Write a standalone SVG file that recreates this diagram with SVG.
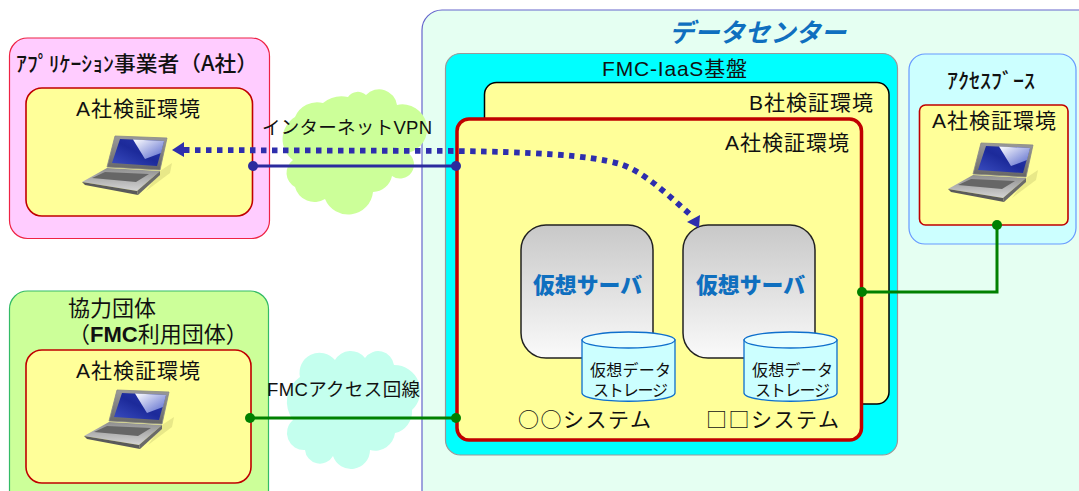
<svg xmlns="http://www.w3.org/2000/svg" width="1079" height="491" viewBox="0 0 1079 491">
<style>
text{font-family:"Liberation Sans","Noto Sans CJK JP",sans-serif;fill:#111}
.env{fill:#FFFF99;stroke:#C00000;stroke-width:1.6}
.l20{font-size:21px}
.jp{font-family:"Noto Sans CJK JP",sans-serif}
.sv{fill:url(#sg);stroke:#222;stroke-width:1.5}
.svt{font-size:22px;font-weight:900;fill:#0F6FBF;font-family:"Noto Sans CJK JP",sans-serif}
.cyl{fill:#CCFFFF;stroke:#0F6FCC;stroke-width:1.3}
.cylt{fill:#E5FFFF;stroke:#0F6FCC;stroke-width:1.3}
.t15{font-size:16px}
.blue{stroke:#2B2B9E;stroke-width:3;fill:none}
.grn{stroke:#008000;stroke-width:3;fill:none}
.dot{stroke:#2E2EAD;stroke-width:5.8;stroke-dasharray:5.500 5.500;fill:none}
</style>
<defs>
<linearGradient id="sg" x1="0" y1="0" x2="0" y2="1"><stop offset="0" stop-color="#C8C8C8"/><stop offset="1" stop-color="#FAFAFA"/></linearGradient>
<linearGradient id="scr" x1="0" y1="1" x2="1" y2="0"><stop offset="0" stop-color="#3A4DC0"/><stop offset="0.5" stop-color="#1C2A9A"/><stop offset="1" stop-color="#2A3AB0"/></linearGradient>
<linearGradient id="hl" x1="0" y1="0" x2="1" y2="1"><stop offset="0" stop-color="#FFFFFF"/><stop offset="1" stop-color="#5566CC"/></linearGradient>
<linearGradient id="bs" x1="0" y1="0" x2="0" y2="1"><stop offset="0" stop-color="#8E8E8E"/><stop offset="1" stop-color="#D4D4D4"/></linearGradient>
<linearGradient id="lid" x1="0" y1="0" x2="0" y2="1"><stop offset="0" stop-color="#9A9A9A"/><stop offset="1" stop-color="#666"/></linearGradient>
<g id="laptop">
<path d="M54 36L66 28L64 38L40 56Z" fill="#E8E888"/>
<path d="M9 1L61 3L54 35L1 32Z" fill="url(#lid)" stroke="#888" stroke-width="0.800"/>
<path d="M14 4L58 6L51 31L6 28Z" fill="url(#scr)"/>
<path d="M27 4.600L58 6L55 18L39 24Z" fill="url(#hl)"/>
<path d="M1 33L54 36L31 56L-24 47Z" fill="url(#bs)"/>
<path d="M-1 37L43 39L30 47L-14 43Z" fill="#666"/>
<path d="M-24 47L31 56L32 60L-21 50Z" fill="#5A5A5A"/>
<path d="M31 56L54 36L54 40L32 60Z" fill="#6A6A6A"/>
</g>
</defs>
<g id="datacenter">
<rect x="422" y="10" width="680" height="520" rx="20" fill="#E5FFF2" stroke="#6666CC" stroke-width="1.2"/>
<text x="669" y="42" font-size="26" font-weight="bold" font-style="italic" style="fill:#0F6FBF;font-family:'Noto Sans CJK JP',sans-serif" textLength="177" lengthAdjust="spacingAndGlyphs">データセンター</text>
</g>
<g id="applicant">
<rect x="9.500" y="38" width="260" height="200.500" rx="18" fill="#FFCCFF" stroke="#EE2244" stroke-width="1.2"/>
<text class="jp" x="16" y="71" font-size="21" font-weight="500" textLength="242" lengthAdjust="spacingAndGlyphs">ｱﾌﾟﾘｹｰｼｮﾝ事業者（A社）</text>
<rect class="env" x="26" y="88" width="226.500" height="128" rx="16"/>
<text class="l20" x="76" y="116" textLength="124">A社検証環境</text>
<use href="#laptop" transform="translate(106,135)"/>
</g>
<g id="partner">
<rect x="9.500" y="291" width="259" height="220" rx="18" fill="#CCFF99" stroke="#33BB66" stroke-width="1.2"/>
<text x="68" y="316" font-size="22">協力団体</text>
<text x="68" y="342" font-size="22"><tspan>（</tspan><tspan font-weight="bold">FMC</tspan><tspan>利用団体）</tspan></text>
<rect class="env" x="26" y="350" width="225" height="133" rx="16"/>
<text class="l20" x="76" y="378" textLength="124">A社検証環境</text>
<use href="#laptop" transform="translate(108,389)"/>
</g>
<g id="cloud1">
<path d="M295 117A24 24 0 0 1 323 103A30 30 0 0 1 348 97A12 12 0 0 1 366 95A18 18 0 0 1 397 105A24 24 0 0 1 408 153A14 14 0 0 1 392 176A20 20 0 0 1 373 192A25 25 0 0 1 325 199A20 20 0 0 1 295 187A16 16 0 0 1 293 160A26 26 0 0 1 295 117Z" fill="#CCFF99"/>
</g>
<g id="cloud2">
<path d="M300 377A20 20 0 0 1 335 360A18 18 0 0 1 365 358A16 16 0 0 1 394 365A26 26 0 0 1 412 410A22 22 0 0 1 395 433A20 20 0 0 1 370 450A19 19 0 0 1 333 456A15 15 0 0 1 305 450A17 17 0 0 1 293 420A30 30 0 0 1 300 377Z" fill="#C4FFEE"/>
</g>
<g id="fmc-iaas">
<rect x="445.500" y="53.500" width="452" height="401.500" rx="15" fill="#00FFFF" stroke="#999" stroke-width="1.2"/>
<text class="l20" x="602" y="76" textLength="145">FMC-IaaS基盤</text>
</g>
<g id="env-b">
<rect x="484.500" y="82.500" width="404.500" height="321.500" rx="12" fill="#FFFF99" stroke="#000" stroke-width="1.5"/>
<text class="l20" x="749" y="110" textLength="124">B社検証環境</text>
</g>
<g id="env-a">
<rect x="457" y="119" width="404.500" height="321" rx="12" fill="#FFFF99" stroke="#C00000" stroke-width="3.500"/>
<text class="l20" x="725" y="150" textLength="124">A社検証環境</text>
</g>
<g id="server1">
<rect class="sv" x="521" y="225" width="132" height="133" rx="25"/>
<text class="svt" x="533" y="293" textLength="109" lengthAdjust="spacingAndGlyphs">仮想サーバ</text>
</g>
<g id="server2">
<rect class="sv" x="683" y="225" width="132" height="133" rx="25"/>
<text class="svt" x="696" y="293" textLength="109" lengthAdjust="spacingAndGlyphs">仮想サーバ</text>
</g>
<g id="storage1">
<path class="cyl" d="M582 340V393C582 404 675 404 675 393V340Z"/>
<ellipse class="cylt" cx="628.500" cy="340" rx="46.500" ry="8"/>
<text class="t15" x="590" y="376" textLength="81">仮想データ</text>
<text class="t15" x="593" y="396" textLength="75">ストレージ</text>
</g>
<g id="storage2">
<path class="cyl" d="M744 340V393C744 404 837 404 837 393V340Z"/>
<ellipse class="cylt" cx="790.500" cy="340" rx="46.500" ry="8"/>
<text class="t15" x="752" y="376" textLength="81">仮想データ</text>
<text class="t15" x="755" y="396" textLength="75">ストレージ</text>
</g>
<text class="l20 jp" x="518" y="427" textLength="133">○○システム</text>
<text class="l20 jp" x="706" y="427" textLength="133">□□システム</text>
<g id="access">
<rect x="909" y="54" width="167" height="190" rx="16" fill="#CCFFFF" stroke="#6699FF" stroke-width="1.2"/>
<text class="jp" x="947" y="88" font-size="21" font-weight="500" textLength="88" lengthAdjust="spacingAndGlyphs">ｱｸｾｽﾌﾞｰｽ</text>
<rect class="env" x="919.500" y="105" width="148.500" height="120" rx="6"/>
<text class="l20" x="932" y="128" textLength="124">A社検証環境</text>
<use href="#laptop" transform="translate(972,142)"/>
</g>
<g id="connectors">
<path class="blue" d="M253 166H456"/>
<circle cx="253" cy="166" r="5" fill="#2B2B9E"/>
<circle cx="456" cy="166" r="5" fill="#2B2B9E"/>
<path class="dot" d="M184 150L456 151C530 152 590 155 620 164C645 172 670 197 693 217"/>
<path d="M172 150L184 142V157Z" fill="#2E2EAD"/>
<path d="M699 228L687 222L700 215Z" fill="#2E2EAD"/>
<path class="grn" d="M250 418H456"/>
<circle cx="250" cy="418" r="5" fill="#008000"/>
<circle cx="456" cy="418" r="5" fill="#008000"/>
<path class="grn" d="M862 292H997V225"/>
<circle cx="862" cy="292" r="5" fill="#008000"/>
<circle cx="997" cy="225" r="5" fill="#008000"/>
</g>
<text x="262" y="134" font-size="18.500" textLength="170">インターネットVPN</text>
<text x="267" y="396" font-size="18.500" textLength="153">FMCアクセス回線</text>
</svg>
